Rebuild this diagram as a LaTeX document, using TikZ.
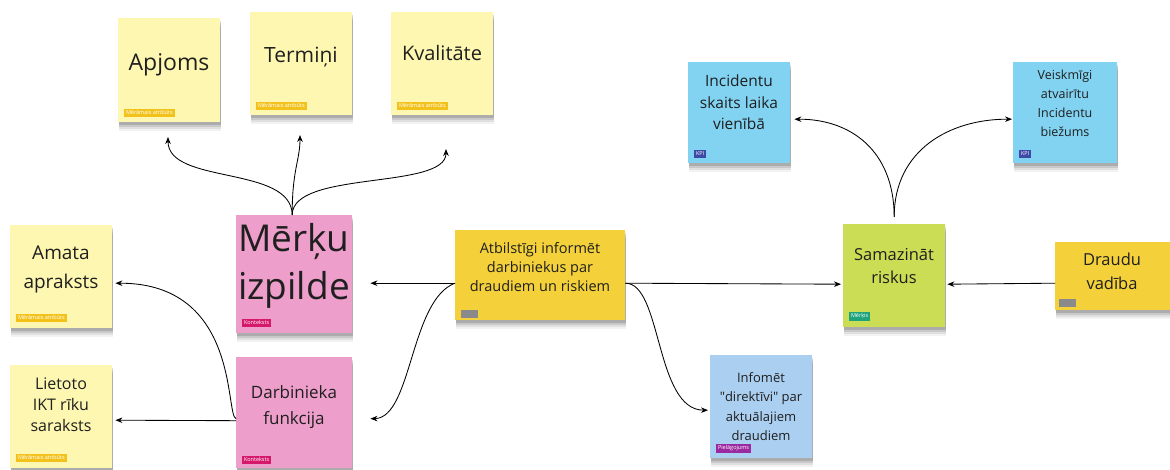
\documentclass[tikz,border=0pt]{standalone}
\usepackage{fontspec}
\setmainfont{Open Sans}
\newfontfamily\plainfont{Open Sans}
\usetikzlibrary{arrows.meta,shadows}
\definecolor{paleyel}{HTML}{FEF7B1}
\definecolor{gold}{HTML}{F4D13A}
\definecolor{pinknote}{HTML}{ED9ECA}
\definecolor{limenote}{HTML}{CADD55}
\definecolor{skynote}{HTML}{82D3F2}
\definecolor{icenote}{HTML}{AACFF0}
\definecolor{tagyel}{HTML}{F2C21B}
\definecolor{tagpink}{HTML}{D6186A}
\definecolor{tagblue}{HTML}{3F4AA6}
\definecolor{taggreen}{HTML}{1FA37A}
\definecolor{tagpurple}{HTML}{9B2AA0}
\definecolor{taggray}{HTML}{8A8A8A}
\begin{document}
\begin{tikzpicture}[x=1pt,y=-1pt,
  note/.style={draw=none, anchor=north west, inner sep=0pt,
    drop shadow={shadow xshift=1pt, shadow yshift=-9pt, opacity=0.05, fill=black},
    drop shadow={shadow xshift=1pt, shadow yshift=-7pt, opacity=0.07, fill=black},
    drop shadow={shadow xshift=1pt, shadow yshift=-5pt, opacity=0.1, fill=black},
    drop shadow={shadow xshift=1pt, shadow yshift=-3pt, opacity=0.14, fill=black}},
  txt/.style={anchor=north, align=center, inner sep=0pt, text=black!88},
  tag/.style={anchor=south west, inner sep=1.8pt, font=\fontsize{5.5}{6}\selectfont, text=white},
  graytag/.style={anchor=south west, fill=taggray, minimum width=17pt, minimum height=8pt, inner sep=0pt},
  arr/.style={-{Stealth[length=7pt,width=5.5pt]}, line width=0.85pt}]
\useasboundingbox (0,0) rectangle (1170,470);
\fill[white] (0,0) rectangle (1170,470);

% measured attributes of the goal
\node[note, fill=paleyel, minimum width=102pt, minimum height=104pt] (ap) at (118,18) {};
\node[txt, font=\fontsize{23}{28}\selectfont] (apT) at (169,53) {Apjoms};
\node[tag, fill=tagyel] (apG) at (124,117) {Mērāmais atribūts};

\node[note, fill=paleyel, minimum width=102pt, minimum height=103pt] (te) at (250,12) {};
\node[txt, font=\fontsize{21}{26}\selectfont] (teT) at (301,47) {Termiņi};
\node[tag, fill=tagyel] (teG) at (256,110) {Mērāmais atribūts};

\node[note, fill=paleyel, minimum width=102pt, minimum height=103pt] (kv) at (391,12) {};
\node[txt, font=\fontsize{20}{25}\selectfont] (kvT) at (442,45) {Kvalitāte};
\node[tag, fill=tagyel] (kvG) at (397,110) {Mērāmais atribūts};

\node[note, fill=paleyel, minimum width=102pt, minimum height=103pt] (aa) at (10,225) {};
\node[txt, font=\fontsize{19}{29}\selectfont] (aaT) at (61,246) {Amata\\apraksts};
\node[tag, fill=tagyel] (aaG) at (16,322) {Mērāmais atribūts};

\node[note, fill=paleyel, minimum width=102pt, minimum height=103pt] (lr) at (10,365) {};
\node[txt, font=\fontsize{16}{21}\selectfont] (lrT) at (61,378) {Lietoto\\IKT rīku\\saraksts};
\node[tag, fill=tagyel] (lrG) at (16,462) {Mērāmais atribūts};

% context notes
\node[note, fill=pinknote, minimum width=116pt, minimum height=118pt] (mi) at (236,215) {};
\node[txt, font=\fontsize{37}{48}\selectfont] (miT) at (294,223) {Mērķu\\izpilde};
\node[tag, fill=tagpink] (miG) at (242,327) {Konteksts};

\node[note, fill=pinknote, minimum width=116pt, minimum height=111pt] (df) at (236,357) {};
\node[txt, font=\fontsize{17}{26}\selectfont] (dfT) at (294,385) {Darbinieka\\funkcija};
\node[tag, fill=tagpink] (dfG) at (242,464) {Konteksts};

% central task
\node[note, fill=gold, minimum width=170pt, minimum height=90pt] (ai) at (455,230) {};
\node[txt, font=\fontsize{14.5}{19}\selectfont] (aiT) at (540,242) {Atbilstīgi informēt\\darbiniekus par\\draudiem un riskiem};
\node[graytag] (aiG) at (461,318) {};

% goal and its KPIs
\node[note, fill=limenote, minimum width=102pt, minimum height=103pt] (sr) at (843,224) {};
\node[txt, font=\fontsize{16.5}{23}\selectfont] (srT) at (894,248) {Samazināt\\riskus};
\node[tag, fill=taggreen] (srG) at (849,321) {Mērķis};

\node[note, fill=gold, minimum width=115pt, minimum height=68pt] (dv) at (1055,242) {};
\node[txt, font=\fontsize{16.5}{24}\selectfont] (dvT) at (1112,253) {Draudu\\vadība};
\node[graytag] (dvG) at (1059,307) {};

\node[note, fill=skynote, minimum width=102pt, minimum height=101pt] (is) at (688,62) {};
\node[txt, font=\fontsize{15.5}{21.5}\selectfont] (isT) at (739,75) {Incidentu\\skaits laika\\vienībā};
\node[tag, fill=tagblue] (isG) at (694,158) {KPI};

\node[note, fill=skynote, minimum width=104pt, minimum height=101pt] (va) at (1013,62) {};
\node[txt, font=\fontsize{12.5}{19}\selectfont] (vaT) at (1065,70) {Veiskmīgi\\atvairītu\\Incidentu\\biežums};
\node[tag, fill=tagblue] (vaG) at (1019,158) {KPI};

\node[note, fill=icenote, minimum width=102pt, minimum height=103pt] (id) at (710,355) {};
\node[txt, font=\fontsize{13}{19.5}\selectfont] (idT) at (761,372) {Infomēt\\{\plainfont"}direktīvi{\plainfont"} par\\aktuālajiem\\draudiem};
\node[tag, fill=tagpurple] (idG) at (716,453) {Pielāgojums};

% connectors
\draw[arr] ([xshift=-2pt]mi.north) .. controls (292,165) and (168,185) .. (168,137);
\draw[arr] ([xshift=-2pt]mi.north) .. controls (292,170) and (300,160) .. (300,135);
\draw[arr] ([xshift=-2pt]mi.north) .. controls (292,170) and (446,190) .. (446,149);

\draw[arr] ([yshift=-8pt]ai.west) -- ([xshift=18pt,yshift=-9pt]mi.east);
\draw[arr] ([yshift=-8pt]ai.west) .. controls (410,300) and (412,418) .. ([xshift=18pt,yshift=-6pt]df.east);
\draw[arr] ([yshift=-8pt]df.west) -- ([xshift=3pt,yshift=-3.5pt]lr.east);
\draw[arr] ([yshift=-6pt]df.west) .. controls (225,415) and (240,283) .. ([xshift=3pt,yshift=-6.5pt]aa.east);

\draw[arr] ([yshift=-8pt]ai.east) -- ([xshift=-2pt,yshift=-8.5pt]sr.west);
\draw[arr] ([yshift=-8pt]ai.east) .. controls (662,283) and (655,410) .. ([xshift=-2pt,yshift=-3.5pt]id.west);
\draw[arr] ([yshift=-7pt]dv.west) -- ([xshift=2pt,yshift=-8.5pt]sr.east);

\draw[arr] ([yshift=7pt]sr.north) .. controls (894,150) and (850,119) .. ([xshift=4pt,yshift=-6.5pt]is.east);
\draw[arr] ([yshift=7pt]sr.north) .. controls (894,150) and (950,119) .. ([xshift=-1pt,yshift=-6.5pt]va.west);
\end{tikzpicture}
\end{document}
